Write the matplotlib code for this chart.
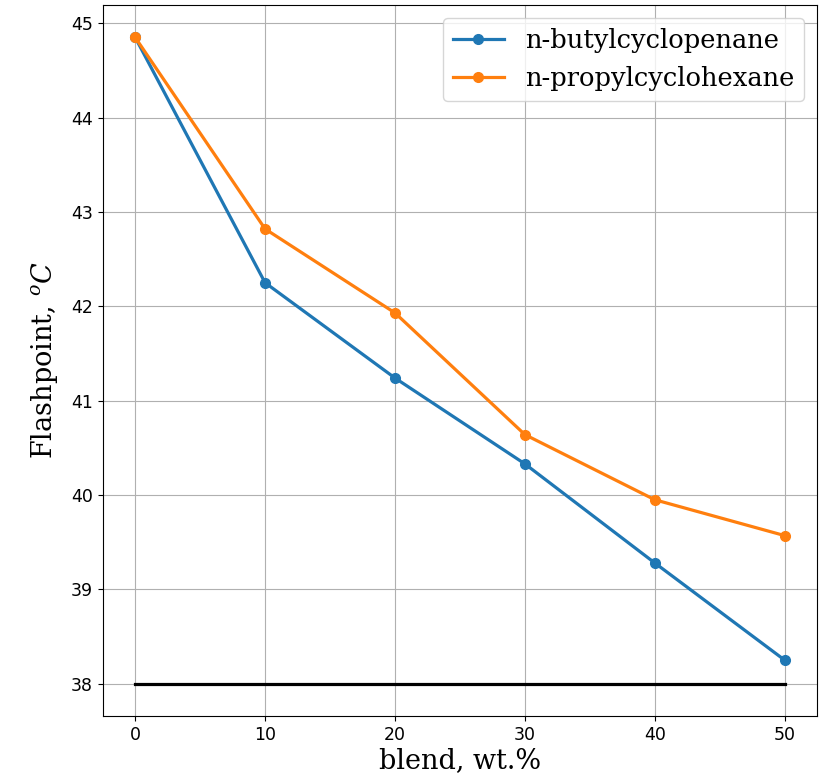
import matplotlib
matplotlib.use("Agg")
import matplotlib.pyplot as plt

blend = [0, 10, 20, 30, 40, 50]
butyl = [44.85, 42.25, 41.24, 40.33, 39.28, 38.25]
propyl = [44.85, 42.82, 41.93, 40.64, 39.95, 39.57]
limit = [38, 38, 38, 38, 38, 38]

plt.rcParams["mathtext.fontset"] = "dejavuserif"

fig, ax = plt.subplots(figsize=(8.28, 7.75), dpi=100)
fig.subplots_adjust(left=0.124, right=0.987, top=0.9935, bottom=0.076)

ax.plot(blend, butyl, marker="o", linewidth=2.3, markersize=7, label="n-butylcyclopenane")
ax.plot(blend, propyl, marker="o", linewidth=2.3, markersize=7, label="n-propylcyclohexane")
ax.plot(blend, limit, color="black", linewidth=2.3)

ax.set_xlabel("blend, wt.%", fontsize=19.5, family="serif", labelpad=2)
ax.set_ylabel("Flashpoint, $^oC$", fontsize=19.5, family="serif", labelpad=8)
ax.tick_params(labelsize=12.5)
ax.grid(True)
ax.legend(prop={"family": "serif", "size": 18.5}, loc="upper right")

fig.savefig("out.png", dpi=100)
